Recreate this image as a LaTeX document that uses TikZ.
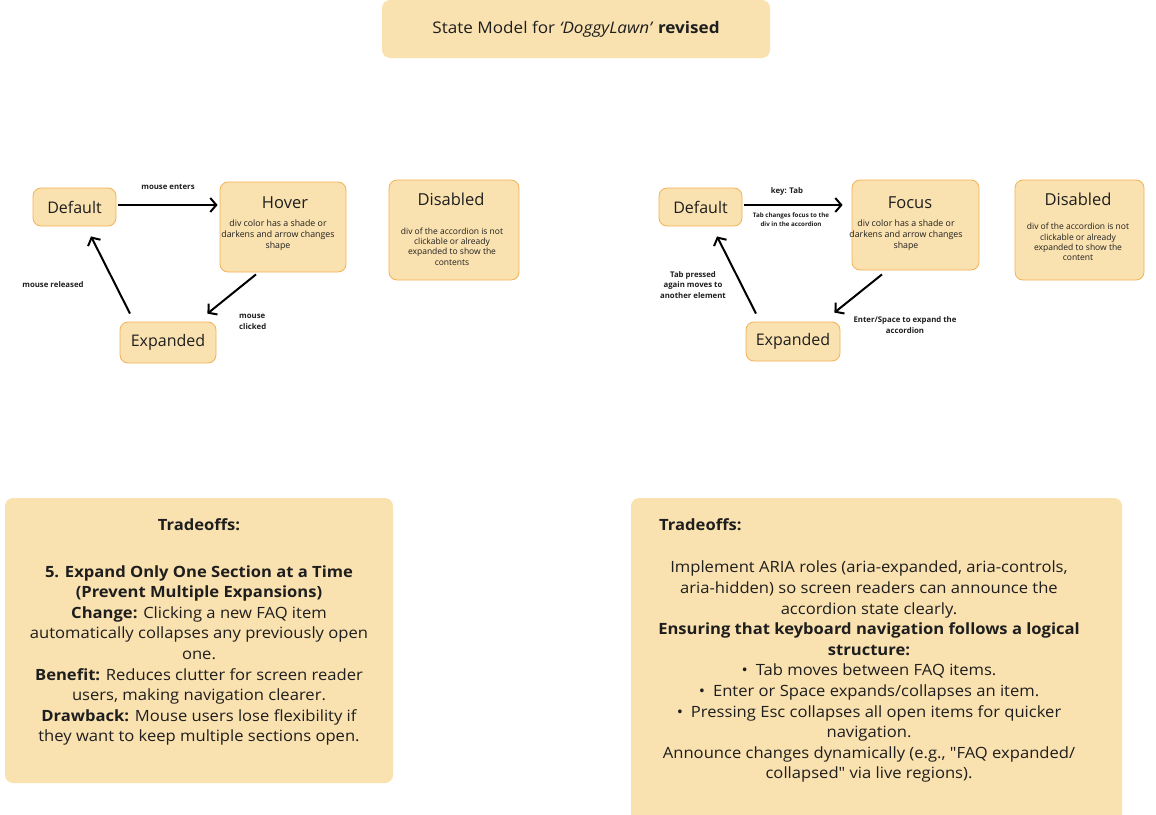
\documentclass[tikz,border=0pt]{standalone}
\usepackage{fontspec}
\setmainfont{Open Sans}
\newfontfamily\widefont{Open Sans}[FakeStretch=1.07]
\usetikzlibrary{arrows.meta,positioning}

\definecolor{boxfill}{RGB}{250,226,176}
\definecolor{boxline}{RGB}{243,177,85}
\definecolor{ink}{RGB}{30,30,30}

\begin{document}
\begin{tikzpicture}[x=1pt,y=-1pt,
    every node/.style={text=ink, inner sep=0pt},
    statebox/.style={draw=boxline, fill=boxfill, rounded corners=8pt, line width=0.8pt},
    statename/.style={font=\fontsize{16}{19}\selectfont},
    desctext/.style={font=\fontsize{8.5}{10.4}\selectfont, align=center},
    edgetext/.style={font=\bfseries\fontsize{7.8}{10.4}\selectfont, align=center},
    notebox/.style={fill=boxfill, rounded corners=8pt},
    notetext/.style={font=\widefont\fontsize{15.5}{20.6}\selectfont, align=center},
    flow/.style={line width=2pt, -{Straight Barb[length=6pt,width=14pt]}}
  ]
  \useasboundingbox (0,0) rectangle (1156,814);
  \clip (0,0) rectangle (1156,814);

  % title
  \node[notebox, minimum width=388pt, minimum height=58pt, font=\widefont\fontsize{16}{19}\selectfont] (title) at (576,29)
    {State Model for \textit{‘DoggyLawn’} \textbf{revised}};

  % mouse model
  \node[statebox, minimum width=83pt, minimum height=38pt, statename] (defaultL) at (74.5,207) {Default};
  \node[statebox, minimum width=126pt, minimum height=90pt] (hoverL) at (283,227) {};
  \node[statename, font=\fontsize{16.5}{19}\selectfont] (hoverLname) at (285,203) {Hover};
  \node[desctext, font=\fontsize{8.8}{10.8}\selectfont] (hoverLdesc) at (278,235) {div color has a shade or\\darkens and arrow changes\\shape};
  \node[statebox, minimum width=130pt, minimum height=100pt] (disabledL) at (454,230) {};
  \node[statename, font=\fontsize{16.5}{19}\selectfont] (disabledLname) at (451,199) {Disabled};
  \node[desctext] (disabledLdesc) at (452,246.5) {div of the accordion is not\\clickable or already\\expanded to show the\\contents};
  \node[statebox, minimum width=96pt, minimum height=41pt, statename] (expandedL) at (168,342.5) {Expanded};

  \draw[flow, shorten <=2pt, shorten >=2pt] ([yshift=2pt]defaultL.east) -- ([yshift=2pt]defaultL.east -| hoverL.west);
  \draw[flow] ([xshift=-27pt,yshift=-2pt]hoverL.south) -- ([xshift=-9pt,yshift=8pt]expandedL.north east);
  \draw[flow] ([xshift=-38pt,yshift=8pt]expandedL.north) -- ([xshift=16.5pt,yshift=-10pt]defaultL.south);
  \node[edgetext] (enters) at (168,187) {mouse enters};
  \node[edgetext, anchor=west, align=left] (clicked) at (239,322) {mouse\\clicked};
  \node[edgetext] (released) at (53,285) {mouse released};

  % keyboard model
  \node[statebox, minimum width=83pt, minimum height=38pt, statename] (defaultR) at (700.5,207) {Default};
  \node[statebox, minimum width=127pt, minimum height=90pt] (focusR) at (915.5,225) {};
  \node[statename, font=\fontsize{16.5}{19}\selectfont] (focusRname) at (910,203) {Focus};
  \node[desctext, font=\fontsize{8.8}{10.8}\selectfont] (focusRdesc) at (906,235) {div color has a shade or\\darkens and arrow changes\\shape};
  \node[statebox, minimum width=129pt, minimum height=100pt] (disabledR) at (1079.5,230) {};
  \node[statename, font=\fontsize{16.5}{19}\selectfont] (disabledRname) at (1078,199) {Disabled};
  \node[desctext] (disabledRdesc) at (1078,242) {div of the accordion is not\\clickable or already\\expanded to show the\\content};
  \node[statebox, minimum width=94pt, minimum height=39pt, statename] (expandedR) at (793,341.5) {Expanded};

  \draw[flow, shorten <=2pt, shorten >=9pt] ([yshift=2pt]defaultR.east) -- ([yshift=2pt]defaultR.east -| focusR.west);
  \draw[flow] ([xshift=-33.5pt,yshift=-4pt]focusR.south) -- ([xshift=-6pt,yshift=9pt]expandedR.north east);
  \draw[flow] ([xshift=-37pt,yshift=8pt]expandedR.north) -- ([xshift=16.5pt,yshift=-10pt]defaultR.south);
  \node[edgetext] (keytab) at (787,191) {key: Tab};
  \node[edgetext, font=\bfseries\fontsize{6.2}{9}\selectfont] (tabfocus) at (791,219.5) {Tab changes focus to the\\div in the accordion};
  \node[edgetext] (tabagain) at (693,285) {Tab pressed\\again moves to\\another element};
  \node[edgetext] (enterspace) at (905,325) {Enter/Space to expand the\\accordion};

  % tradeoff notes
  \node[notebox, minimum width=388pt, minimum height=285pt] (tradeL) at (199,640.5) {};
  \node[notetext, anchor=north] (tradeLtext) at (199,518) {\textbf{Tradeoffs:}\\[26.4pt]
    \textbf{5. Expand Only One Section at a Time}\\
    \textbf{(Prevent Multiple Expansions)}\\
    \textbf{Change:} Clicking a new FAQ item\\
    automatically collapses any previously open\\
    one.\\
    \textbf{Benefit:} Reduces clutter for screen reader\\
    users, making navigation clearer.\\
    \textbf{Drawback:} Mouse users lose flexibility if\\
    they want to keep multiple sections open.};

  \node[notebox, minimum width=491pt, minimum height=340pt] (tradeR) at (876.5,668) {};
  \node[notetext, anchor=north west, font=\widefont\bfseries\fontsize{15.5}{20.6}\selectfont] (tradeRhead) at (659,518) {Tradeoffs:};
  \node[notetext, anchor=north] (tradeRtext) at (869,561) {Implement ARIA roles (aria-expanded, aria-controls,\\
    aria-hidden) so screen readers can announce the\\
    accordion state clearly.\\
    \textbf{Ensuring that keyboard navigation follows a logical}\\
    \textbf{structure:}\\
    •\hspace{8pt}Tab moves between FAQ items.\\
    •\hspace{8pt}Enter or Space expands/collapses an item.\\
    •\hspace{8pt}Pressing Esc collapses all open items for quicker\\
    navigation.\\
    Announce changes dynamically (e.g., \symbol{34}FAQ expanded/\\
    collapsed\symbol{34} via live regions).};
\end{tikzpicture}
\end{document}
